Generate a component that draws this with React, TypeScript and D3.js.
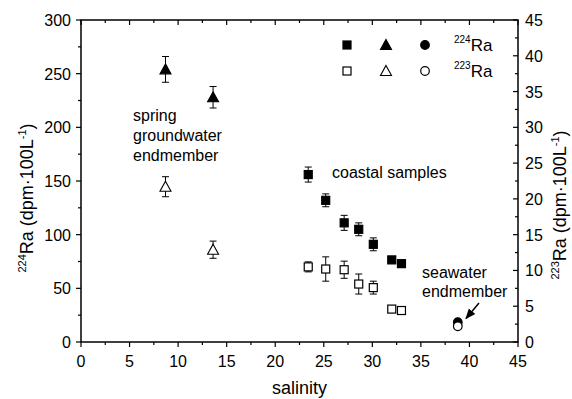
import React from "react";
import * as d3 from "d3";

const springSal = [8.7, 13.6];
const springRa224 = [254, 228];
const springRa224Err = [12, 10];
const springRa223 = [21.7, 12.9];
const springRa223Err = [1.4, 1.2];

const coastalSal = [23.4, 25.2, 27.1, 28.6, 30.1, 32.0, 33.0];
const coastalRa224 = [156, 132, 111, 105, 91, 76.5, 73];
const coastalRa224Err = [7, 6, 7, 6, 6, 1.5, 1.2];
const coastalRa223 = [10.5, 10.2, 10.1, 8.1, 7.6, 4.6, 4.4];
const coastalRa223Err = [0.7, 1.7, 1.2, 1.4, 0.9, 0.3, 0.3];

const seaSal = [38.8];
const seaRa224 = [18.5];
const seaRa224Err = [1];
const seaRa223 = [2.2];
const seaRa223Err = [0.3];

const xTicks = [0, 5, 10, 15, 20, 25, 30, 35, 40, 45];
const leftTicks = [0, 50, 100, 150, 200, 250, 300];
const rightTicks = [0, 5, 10, 15, 20, 25, 30, 35, 40, 45];

const FONT = "'Liberation Sans', Arial, Helvetica, sans-serif";

export default function App() {
  const W = 572, H = 399;
  const L = 81, R = 518, T = 20, B = 342;
  const x = d3.scaleLinear().domain([0, 45]).range([L, R]);
  const yL = d3.scaleLinear().domain([0, 300]).range([B, T]);
  const yR = d3.scaleLinear().domain([0, 45]).range([B, T]);

  const xMinor = d3.range(2.5, 45, 5);
  const lMinor = d3.range(25, 300, 50);
  const rMinor = d3.range(2.5, 45, 5);

  const sq = (cx: number, cy: number, filled: boolean, k: string) => (
    <rect key={k} x={cx - 4} y={cy - 4} width={8} height={8}
      fill={filled ? "#000" : "#fff"} stroke="#000" strokeWidth={1.2} />
  );
  const tri = (cx: number, cy: number, filled: boolean, k: string) => (
    <path key={k} d={`M${cx},${cy - 5.5}L${cx + 5.5},${cy + 4.5}L${cx - 5.5},${cy + 4.5}Z`}
      fill={filled ? "#000" : "#fff"} stroke="#000" strokeWidth={1.1} />
  );
  const circ = (cx: number, cy: number, filled: boolean, k: string) => (
    <circle key={k} cx={cx} cy={cy} r={4.3}
      fill={filled ? "#000" : "#fff"} stroke="#000" strokeWidth={1.2} />
  );
  const err = (cx: number, y1: number, y2: number, k: string) => (
    <g key={k} stroke="#000" strokeWidth={1}>
      <line x1={cx} x2={cx} y1={y1} y2={y2} />
      <line x1={cx - 3.5} x2={cx + 3.5} y1={y1} y2={y1} />
      <line x1={cx - 3.5} x2={cx + 3.5} y1={y2} y2={y2} />
    </g>
  );

  return (
    <svg width={W} height={H} style={{ position: "absolute", left: 0, top: 0, background: "#fff" }}
      fontFamily={FONT}>
      <rect x={0} y={0} width={W} height={H} fill="#fff" />
      <rect x={L} y={T} width={R - L} height={B - T} fill="none" stroke="#000" strokeWidth={1.5} />

      {xTicks.map((t) => (
        <g key={"xb" + t}>
          <line x1={x(t)} x2={x(t)} y1={B} y2={B + 5} stroke="#000" strokeWidth={1.2} />
          <line x1={x(t)} x2={x(t)} y1={T} y2={T + 5} stroke="#000" strokeWidth={1.2} />
          <text x={x(t)} y={B + 25} textAnchor="middle" fontSize={16}>{t}</text>
        </g>
      ))}
      {xMinor.map((t) => (
        <g key={"xm" + t}>
          <line x1={x(t)} x2={x(t)} y1={B} y2={B + 3} stroke="#000" strokeWidth={1.2} />
          <line x1={x(t)} x2={x(t)} y1={T} y2={T + 3} stroke="#000" strokeWidth={1.2} />
        </g>
      ))}
      {leftTicks.map((t) => (
        <g key={"yl" + t}>
          <line x1={L - 5} x2={L} y1={yL(t)} y2={yL(t)} stroke="#000" strokeWidth={1.2} />
          <text x={L - 10} y={yL(t) + 6} textAnchor="end" fontSize={16}>{t}</text>
        </g>
      ))}
      {lMinor.map((t) => (
        <line key={"ylm" + t} x1={L - 3} x2={L} y1={yL(t)} y2={yL(t)} stroke="#000" strokeWidth={1.2} />
      ))}
      {rightTicks.map((t) => (
        <g key={"yr" + t}>
          <line x1={R - 5} x2={R} y1={yR(t)} y2={yR(t)} stroke="#000" strokeWidth={1.2} />
          <text x={R + 7} y={yR(t) + 6} textAnchor="start" fontSize={16}>{t}</text>
        </g>
      ))}
      {rMinor.map((t) => (
        <line key={"yrm" + t} x1={R - 3} x2={R} y1={yR(t)} y2={yR(t)} stroke="#000" strokeWidth={1.2} />
      ))}

      <text x={(L + R) / 2} y={394} textAnchor="middle" fontSize={18}>salinity</text>
      <text transform={`translate(33,198) rotate(-90)`} textAnchor="middle" fontSize={18}>
        <tspan fontSize={11} dy={-7}>224</tspan>
        <tspan dy={7}>Ra (dpm·100L</tspan>
        <tspan fontSize={11} dy={-7}>-1</tspan>
        <tspan dy={7}>)</tspan>
      </text>
      <text transform={`translate(566,205) rotate(-90)`} textAnchor="middle" fontSize={18}>
        <tspan fontSize={11} dy={-7}>223</tspan>
        <tspan dy={7}>Ra (dpm·100L</tspan>
        <tspan fontSize={11} dy={-7}>-1</tspan>
        <tspan dy={7}>)</tspan>
      </text>

      {springSal.map((s, i) => err(x(s), yL(springRa224[i] + springRa224Err[i]), yL(springRa224[i] - springRa224Err[i]), "e1" + i))}
      {springSal.map((s, i) => err(x(s), yR(springRa223[i] + springRa223Err[i]), yR(springRa223[i] - springRa223Err[i]), "e2" + i))}
      {coastalSal.map((s, i) => err(x(s), yL(coastalRa224[i] + coastalRa224Err[i]), yL(coastalRa224[i] - coastalRa224Err[i]), "e3" + i))}
      {coastalSal.map((s, i) => err(x(s), yR(coastalRa223[i] + coastalRa223Err[i]), yR(coastalRa223[i] - coastalRa223Err[i]), "e4" + i))}
      {seaSal.map((s, i) => err(x(s), yL(seaRa224[i] + seaRa224Err[i]), yL(seaRa224[i] - seaRa224Err[i]), "e5" + i))}
      {seaSal.map((s, i) => err(x(s), yR(seaRa223[i] + seaRa223Err[i]), yR(seaRa223[i] - seaRa223Err[i]), "e6" + i))}

      {springSal.map((s, i) => tri(x(s), yL(springRa224[i]), true, "t1" + i))}
      {springSal.map((s, i) => tri(x(s), yR(springRa223[i]), false, "t2" + i))}
      {coastalSal.map((s, i) => sq(x(s), yL(coastalRa224[i]), true, "s1" + i))}
      {coastalSal.map((s, i) => sq(x(s), yR(coastalRa223[i]), false, "s2" + i))}
      {seaSal.map((s, i) => circ(x(s), yL(seaRa224[i]), true, "c1" + i))}
      {seaSal.map((s, i) => circ(x(s), yR(seaRa223[i]), false, "c2" + i))}

      {sq(347, 45, true, "lg1")}
      {tri(386, 45, true, "lg2")}
      {circ(425, 45, true, "lg3")}
      {sq(347, 71, false, "lg4")}
      {tri(386, 71, false, "lg5")}
      {circ(425, 71, false, "lg6")}
      <text x={454} y={51} fontSize={17}>
        <tspan fontSize={10} dy={-8}>224</tspan>
        <tspan dy={8}>Ra</tspan>
      </text>
      <text x={454} y={77} fontSize={17}>
        <tspan fontSize={10} dy={-8}>223</tspan>
        <tspan dy={8}>Ra</tspan>
      </text>

      <text x={133} y={121} fontSize={16}>spring</text>
      <text x={133} y={141} fontSize={16}>groundwater</text>
      <text x={133} y={161} fontSize={16}>endmember</text>
      <text x={332} y={178} fontSize={16}>coastal samples</text>
      <text x={422} y={278} fontSize={16}>seawater</text>
      <text x={422} y={297} fontSize={16}>endmember</text>
      <defs>
        <marker id="ah" viewBox="0 0 10 10" refX={9} refY={5} markerWidth={7} markerHeight={7} orient="auto">
          <path d="M0,1L10,5L0,9Z" fill="#000" />
        </marker>
      </defs>
      <line x1={479} y1={303} x2={466} y2={318.5} stroke="#000" strokeWidth={1.5} markerEnd="url(#ah)" />
    </svg>
  );
}
